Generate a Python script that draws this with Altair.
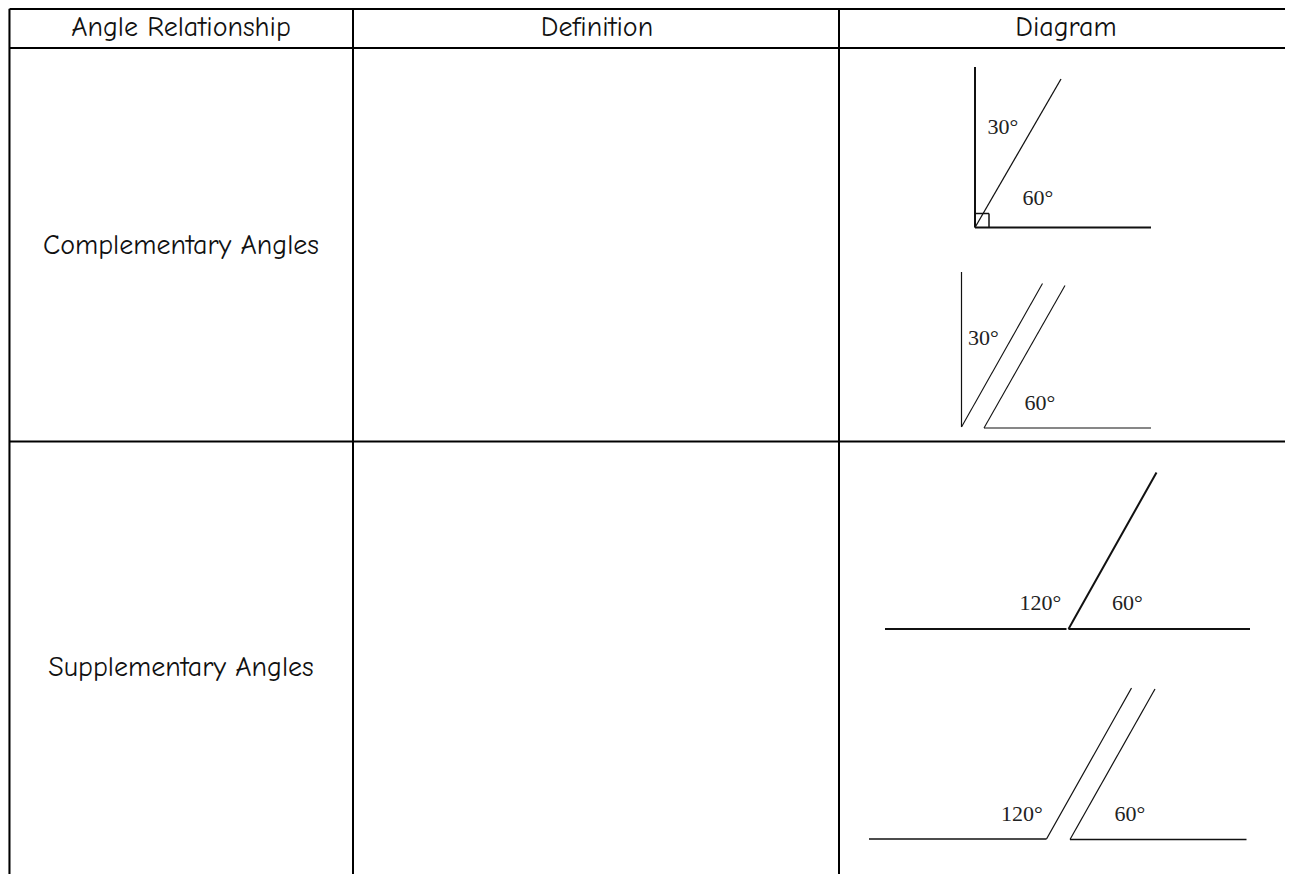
import altair as alt
import pandas as pd

# ---- table structure (page pixel coordinates) ----
col_edges = [9.5, 353, 839, 1300]
row_edges = [9, 48, 441.5, 900]

header_labels = ["Angle Relationship", "Definition", "Diagram"]
header_x = [181, 597, 1066]
header_y = [28, 28, 28]

row_labels = ["Complementary Angles", "Supplementary Angles"]
row_x = [181, 181]
row_y = [246, 668]

# ---- diagram segments ----
seg_x1 = [975, 975, 975, 975, 989,
          961.5, 961.5, 984, 984,
          885, 1068.5, 1068.5,
          869, 1046.5, 1070, 1070]
seg_y1 = [67, 227.5, 227.5, 213.5, 213.5,
          272, 427, 428, 428,
          629, 629, 629,
          839, 839, 839.5, 839.5]
seg_x2 = [975, 1151, 1061, 989, 989,
          961.5, 1042.5, 1065, 1151,
          1066.5, 1250, 1156.5,
          1046.5, 1131.5, 1155, 1246.5]
seg_y2 = [227.5, 227.5, 79, 213.5, 227.5,
          427, 283.5, 285.5, 428,
          629, 629, 472.5,
          839, 688, 689, 839.5]
seg_w = [2, 2, 1.3, 1.5, 1.5,
         1.2, 1.1, 1.1, 1.1,
         2, 2, 2,
         1.5, 1.2, 1.2, 1.5]

angle_labels = ["30°", "60°", "30°", "60°", "120°", "60°", "120°", "60°"]
angle_x = [1003, 1038, 983.5, 1040, 1040.5, 1127.5, 1022, 1130]
angle_y = [127, 198, 338, 403, 603, 603, 814, 814]

# build tables
grid_rows = []
for x in col_edges[:-1]:
    grid_rows.append(dict(x1=x, y1=row_edges[0], x2=x, y2=row_edges[-1], w=2))
for y in row_edges[:-1]:
    grid_rows.append(dict(x1=col_edges[0], y1=y, x2=col_edges[-1], y2=y, w=2))
grid_df = pd.DataFrame(grid_rows)

seg_df = pd.DataFrame(dict(x1=seg_x1, y1=seg_y1, x2=seg_x2, y2=seg_y2, w=seg_w))
head_df = pd.DataFrame(dict(t=header_labels, x=header_x, y=header_y))
rowl_df = pd.DataFrame(dict(t=row_labels, x=row_x, y=row_y))
ang_df = pd.DataFrame(dict(t=angle_labels, x=angle_x, y=angle_y))

W, H = 1277, 866
xs = alt.Scale(domain=[8, 8 + W], nice=False, zero=False)
ys = alt.Scale(domain=[8, 8 + H], nice=False, zero=False, reverse=True)


def seg_layer(df, color):
    return alt.Chart(df).mark_rule(clip=True, color=color, strokeCap="butt").encode(
        x=alt.X("x1:Q", scale=xs, axis=None),
        y=alt.Y("y1:Q", scale=ys, axis=None),
        x2="x2:Q",
        y2="y2:Q",
        strokeWidth=alt.StrokeWidth("w:Q", scale=None),
    )


comic = "Comic Sans MS, Comic Neue, Noto Sans, sans-serif"

grid = seg_layer(grid_df, "#000000")
segs = seg_layer(seg_df, "#111111")

heads = alt.Chart(head_df).mark_text(font=comic, fontSize=28, color="#111111",
                                      align="center", baseline="middle").encode(
    x=alt.X("x:Q", scale=xs, axis=None), y=alt.Y("y:Q", scale=ys, axis=None), text="t:N")
rowl = alt.Chart(rowl_df).mark_text(font=comic, fontSize=28, color="#111111",
                                     align="center", baseline="middle").encode(
    x=alt.X("x:Q", scale=xs, axis=None), y=alt.Y("y:Q", scale=ys, axis=None), text="t:N")
angs = alt.Chart(ang_df).mark_text(font="Cambria Math, Liberation Serif, serif", fontSize=22,
                                    color="#222222", align="center", baseline="middle").encode(
    x=alt.X("x:Q", scale=xs, axis=None), y=alt.Y("y:Q", scale=ys, axis=None), text="t:N")

chart = alt.layer(grid, segs, heads, rowl, angs).properties(
    width=W, height=H, padding=0,
    autosize=alt.AutoSizeParams(type="none"),
).configure_view(strokeWidth=0).configure(background="white")

chart.save("out.html", embed_options={"renderer": "svg", "actions": False})
